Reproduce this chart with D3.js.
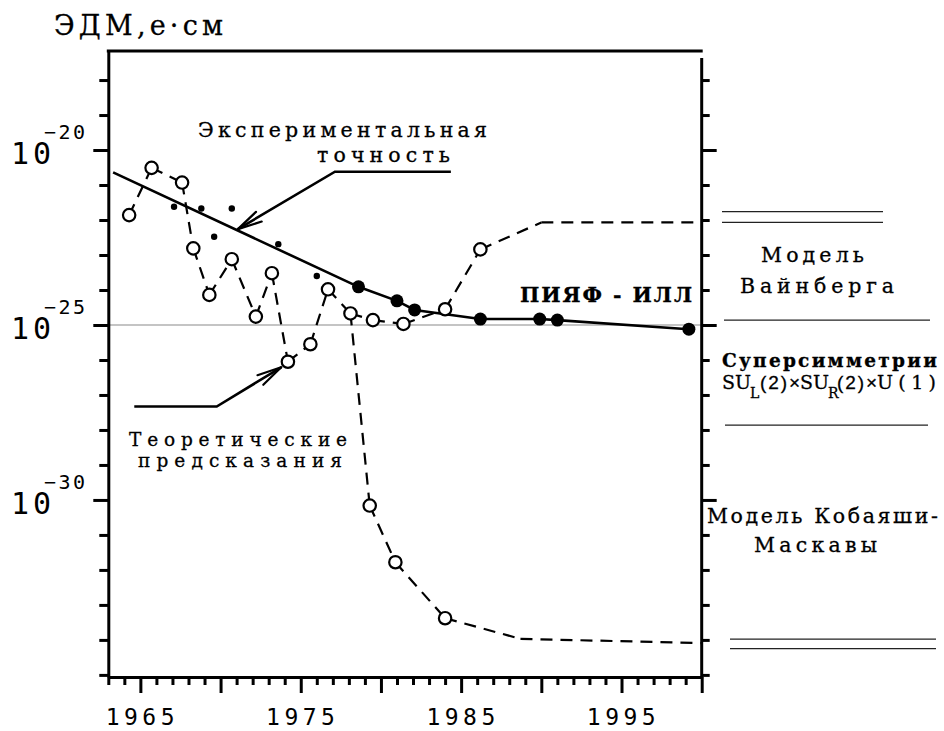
<!DOCTYPE html>
<html>
<head>
<meta charset="utf-8">
<script src="https://cdn.jsdelivr.net/npm/d3@7"></script>
<style>
  html, body { margin: 0; padding: 0; background: #fff; }
  svg { display: block; }
</style>
</head>
<body>
<script>
// ---- data: EDM limits and predictions (years, log10 of d in e·cm) ----
// theoretical predictions (open circles, dashed chain)
const theoryYears = [1964.3, 1965.7, 1967.6, 1968.3, 1969.3, 1970.7, 1972.2, 1973.2, 1974.2, 1975.6, 1976.7, 1978.1, 1979.5, 1981.4, 1984.0, 1986.2];
const theoryExp   = [-21.86, -20.51, -20.93, -22.81, -24.14, -23.12, -24.76, -23.52, -26.05, -25.55, -23.98, -24.67, -24.86, -24.97, -24.55, -22.84];
// continuation of the upper chain towards the Weinberg-model level
const theoryTailYears = [1990.0, 2000.0];
const theoryTailExp   = [-22.07, -22.07];
// branch from 1978: Kobayashi–Maskawa predictions
const kmBranchFrom = 11;
const kmYears = [1979.3, 1980.9, 1984.0];
const kmExp   = [-30.16, -31.78, -33.38];
const kmTailYears = [1988.7, 2000.0];
const kmTailExp   = [-33.97, -34.09];
// early experimental limits (small dots)
const expYears = [1967.1, 1968.8, 1970.7, 1969.6, 1973.6, 1976.0];
const expExp   = [-21.62, -21.67, -21.67, -22.48, -22.69, -23.60];
// PNPI – ILL results (large dots)
const pnpiYears = [1978.6, 1981.0, 1982.1, 1986.2, 1989.9, 1991.0, 1999.2];
const pnpiExp   = [-23.91, -24.31, -24.57, -24.83, -24.83, -24.86, -25.12];
// start of the experimental accuracy trend line
const trendStartYear = 1963.3;
const trendStartExp  = -20.64;
// model levels marked on the right
const modelLevelExp = [-21.76, -22.07, -24.86, -27.86, -33.98, -34.25];
// axis ticks
const yDecades    = d3.range(-35, -17);       // -35 … -18
const yMajorExp   = [-20, -25, -30];
const xYearTicks  = d3.range(1963, 2001);
const xYearLabels = [1965, 1975, 1985, 1995];
// annotation arrows (year, exponent), last point is the tip
const arrowExp  = [[1984.36, -20.62], [1977.13, -20.62], [1971.08, -22.26]];
const arrowTheo = [[1964.62, -27.33], [1969.76, -27.33], [1973.78, -26.21]];

// ---- layout ----
const W = 944, H = 731;
const SERIF = "'DejaVu Serif', 'Liberation Serif', serif";
const DIG   = "'DejaVu Sans Mono', monospace";
const SANS  = "'Liberation Sans', Arial, sans-serif";
const E = e => Math.pow(10, e);

const x = d3.scaleLinear().domain([1963, 2000]).range([108.3, 701.7]);
const y = d3.scaleLog().domain([E(-35.06), E(-17.17)]).range([677, 51]);

const svg = d3.select("body").append("svg")
  .attr("width", W).attr("height", H)
  .attr("viewBox", `0 0 ${W} ${H}`);

// reference level 10^-25
svg.append("line")
  .attr("x1", x(1963)).attr("x2", x(2000))
  .attr("y1", y(E(-25))).attr("y2", y(E(-25)))
  .attr("stroke", "#8a8a8a").attr("stroke-width", 1.2);

// top border
svg.append("line")
  .attr("x1", x(1963) - 1.5).attr("x2", x(2000) + 1)
  .attr("y1", y.range()[1]).attr("y2", y.range()[1])
  .attr("stroke", "#000").attr("stroke-width", 3);

function styleAxis(g) {
  g.selectAll("path.domain").attr("stroke", "#000").attr("stroke-width", 3);
  g.selectAll(".tick line").attr("stroke", "#000").attr("stroke-width", 3);
}

// left axis
const gL = svg.append("g")
  .attr("transform", `translate(${x(1963)},0)`)
  .call(d3.axisLeft(y).tickValues(yDecades.map(E)).tickSize(9).tickSizeOuter(0).tickFormat(""));
gL.selectAll(".tick line").filter(d => yMajorExp.includes(Math.round(Math.log10(d)))).attr("x2", -15);
styleAxis(gL);

// right axis
const gR = svg.append("g")
  .attr("transform", `translate(${x(2000)},0)`)
  .call(d3.axisRight(y).tickValues(yDecades.map(E)).tickSize(8).tickSizeOuter(0).tickFormat(""));
gR.select("path.domain").remove();
gR.selectAll(".tick line").filter(d => yMajorExp.includes(Math.round(Math.log10(d)))).attr("x2", 15);
gR.append("line").attr("x1", 0).attr("x2", 0)
  .attr("y1", y.range()[1] + 7).attr("y2", y.range()[0] + 1.5)
  .attr("stroke", "#000").attr("stroke-width", 3);
styleAxis(gR);

// bottom axis
const gB = svg.append("g")
  .attr("transform", `translate(0,${y.range()[0]})`)
  .call(d3.axisBottom(x).tickValues(xYearTicks).tickSize(8).tickSizeOuter(0).tickFormat(""));
gB.selectAll(".tick line").filter(d => d % 5 === 0).attr("y2", 16);
styleAxis(gB);

svg.append("g").selectAll("text").data(xYearLabels).join("text")
  .attr("x", d => x(d) + 2).attr("y", 725)
  .attr("text-anchor", "middle")
  .attr("font-family", DIG).attr("font-size", 23)
  .attr("letter-spacing", 4.5)
  .attr("fill", "#000")
  .text(d => d);

// y labels 10^n, one text element each with a raised exponent
const yl = svg.append("g").selectAll("text").data(yMajorExp).join("text")
  .attr("font-family", DIG).attr("fill", "#000");
yl.append("tspan")
  .attr("x", 11).attr("y", d => y(E(d)) + 14)
  .attr("font-size", 30).attr("letter-spacing", 4)
  .text("10");
yl.append("tspan")
  .attr("x", 44).attr("y", d => y(E(d)) - 11)
  .attr("font-size", 20).attr("letter-spacing", 2.5)
  .text(d => "\u2212" + Math.abs(d));

// ---- dashed prediction chains (one dash pattern per segment) ----
const P = (yr, e) => [x(yr), y(E(e))];
const theoryPts = theoryYears.map((d, i) => P(d, theoryExp[i]));
const mainChain = theoryPts.concat(theoryTailYears.map((d, i) => P(d, theoryTailExp[i])));
const kmPts = kmYears.map((d, i) => P(d, kmExp[i]));
const kmChain = [theoryPts[kmBranchFrom]].concat(kmPts, kmTailYears.map((d, i) => P(d, kmTailExp[i])));

const segs = [];
[mainChain, kmChain].forEach(ch => { for (let i = 0; i < ch.length - 1; i++) segs.push([ch[i], ch[i + 1]]); });
svg.append("g").selectAll("line").data(segs).join("line")
  .attr("x1", d => d[0][0]).attr("y1", d => d[0][1])
  .attr("x2", d => d[1][0]).attr("y2", d => d[1][1])
  .attr("stroke", "#000").attr("stroke-width", 2.2)
  .attr("stroke-dasharray", "12,8");

// ---- experimental accuracy line ----
const trendPts = [P(trendStartYear, trendStartExp)].concat(pnpiYears.map((d, i) => P(d, pnpiExp[i])));
svg.append("path")
  .attr("d", d3.line()(trendPts))
  .attr("fill", "none").attr("stroke", "#000").attr("stroke-width", 2.6);

// small experimental dots
svg.append("g").selectAll("circle").data(expYears).join("circle")
  .attr("cx", d => x(d)).attr("cy", (d, i) => y(E(expExp[i])))
  .attr("r", 3.2).attr("fill", "#000");

// large PNPI–ILL dots
svg.append("g").selectAll("circle").data(pnpiYears).join("circle")
  .attr("cx", d => x(d)).attr("cy", (d, i) => y(E(pnpiExp[i])))
  .attr("r", 6.5).attr("fill", "#000");

// open circles: theoretical predictions
svg.append("g").selectAll("circle").data(theoryPts.concat(kmPts)).join("circle")
  .attr("cx", d => d[0]).attr("cy", d => d[1])
  .attr("r", 6.2).attr("fill", "#fff").attr("stroke", "#000").attr("stroke-width", 2.2);

// ---- annotation arrows ----
function arrow(pts) {
  const px = pts.map(p => P(p[0], p[1]));
  svg.append("path").attr("d", d3.line()(px))
    .attr("fill", "none").attr("stroke", "#000").attr("stroke-width", 2.6);
  const tip = px[px.length - 1], prev = px[px.length - 2];
  const a = Math.atan2(prev[1] - tip[1], prev[0] - tip[0]);
  const L = 25, s = 13 * Math.PI / 180;
  [a - s, a + s].forEach(b => {
    svg.append("line")
      .attr("x1", tip[0]).attr("y1", tip[1])
      .attr("x2", tip[0] + L * Math.cos(b)).attr("y2", tip[1] + L * Math.sin(b))
      .attr("stroke", "#000").attr("stroke-width", 2.2).attr("stroke-linecap", "round");
  });
}
arrow(arrowExp);
arrow(arrowTheo);

// ---- text blocks: each block is one <text>, each run a <tspan> ----
// run: [string, x, baseline, font size, ink width (0 = natural), options]
function block(runs) {
  const t = svg.append("text")
    .attr("fill", "#000")
    .attr("stroke", "#000")
    .attr("stroke-width", 0.3);
  runs.forEach(([s, x0, yb, fs, w, o = {}]) => {
    const sp = t.append("tspan")
      .attr("x", x0).attr("y", yb)
      .attr("font-family", o.family || SERIF)
      .attr("font-size", fs)
      .attr("font-weight", o.bold ? "bold" : "normal")
      .text(s);
    if (w && s.length > 1) {
      const w0 = sp.node().getComputedTextLength();
      sp.attr("letter-spacing", ((w - w0) / (s.length - 1)).toFixed(2));
    }
  });
  return t;
}

block([["ЭДМ,е·см", 54, 35, 27, 169]]);
block([
  ["Экспериментальная", 198, 137, 20.5, 289],
  ["точность", 317, 162, 20.5, 133]
]);
block([
  ["Теоретические", 129, 445.5, 18.5, 218],
  ["предсказания", 138, 467, 18.5, 204]
]);
block([["ПИЯФ - ИЛЛ", 520, 301.5, 20.5, 172, { bold: true }]]);
block([
  ["Модель", 761, 262, 20.5, 103],
  ["Вайнберга", 740, 293, 20.5, 154]
]);
block([
  ["Суперсимметрии", 722, 366.5, 18.5, 215, { bold: true }],
  // SU_L(2)×SU_R(2)×U(1)
  ["SU", 722, 388.5, 19, 29],
  ["L", 750, 398, 14, 0],
  ["(2)×", 760, 388.5, 19, 40, { family: SANS }],
  ["SU", 800, 388.5, 19, 29],
  ["R", 828, 398, 14, 0],
  ["(2)×", 837, 388.5, 19, 40, { family: SANS }],
  ["U(1)", 877, 388.5, 19, 59]
]);
block([
  ["Модель Кобаяши-", 707, 523, 20.5, 231],
  ["Маскавы", 754, 552, 20.5, 123]
]);

// model level lines on the right
const levelSpan = [[722, 883], [722, 883], [724, 930], [725, 928], [730, 936], [730, 936]];
svg.append("g").selectAll("line").data(modelLevelExp).join("line")
  .attr("x1", (d, i) => levelSpan[i][0]).attr("x2", (d, i) => levelSpan[i][1])
  .attr("y1", d => y(E(d))).attr("y2", d => y(E(d)))
  .attr("stroke", "#222").attr("stroke-width", 1.3);
</script>
</body>
</html>
